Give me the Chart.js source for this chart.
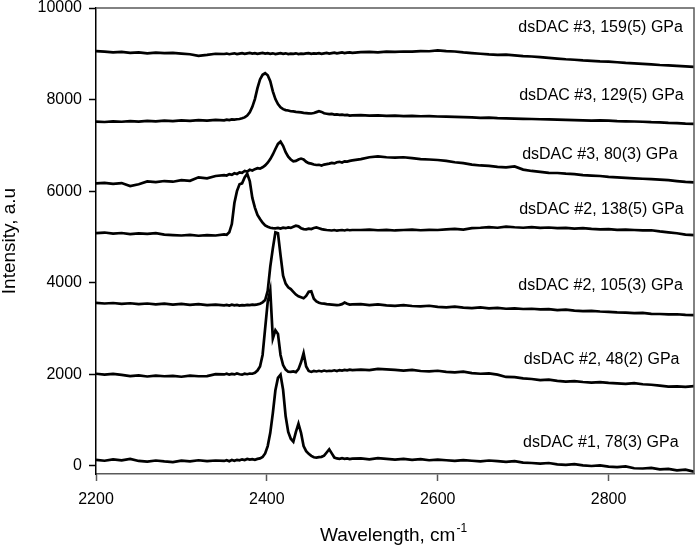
<!DOCTYPE html>
<html>
<head>
<meta charset="utf-8">
<script src="https://cdn.jsdelivr.net/npm/chart.js@4.4.1/dist/chart.umd.min.js"></script>
<style>
  body { margin: 0; background: #fff; }
  canvas { display: block; }
</style>
</head>
<body>
<canvas id="raman-chart" width="697" height="547"></canvas>
<script>
// wavenumber grid (cm-1), finer around the peaks
const wavenumber = [
    2200, 2210, 2220, 2230, 2240, 2250, 2260, 2270, 2280, 2290, 2300, 2310, 2320, 2330, 2340, 2350,
    2353, 2356, 2359, 2362, 2365, 2368, 2371, 2374, 2377, 2380,
    2383, 2386, 2389, 2392, 2395, 2398, 2401, 2404, 2407, 2410,
    2413, 2416, 2419, 2422, 2425, 2428, 2431, 2434, 2437, 2440,
    2443, 2446, 2449, 2452, 2455, 2458, 2461, 2464, 2467, 2470,
    2473, 2476, 2479, 2482, 2485, 2488, 2491, 2494, 2497, 2500,
    2510, 2520, 2530, 2540, 2550, 2560, 2570, 2580, 2590, 2600,
    2610, 2620, 2630, 2640, 2650, 2660, 2670, 2680, 2690, 2700,
    2710, 2720, 2730, 2740, 2750, 2760, 2770, 2780, 2790, 2800,
    2810, 2820, 2830, 2840, 2850, 2860, 2870, 2880, 2890, 2900
];

const dac1_78 = [
    130, 110, 140, 120, 150, 105, 90, 115, 95, 80, 110, 95, 120, 100, 115, 105,
    120, 100, 125, 110, 130, 120, 140, 125, 150, 135,
    145, 130, 150, 160, 190, 270, 430, 720, 1150, 1650,
    1920, 1990, 1660, 1080, 740, 590, 525, 740, 920, 720,
    430, 320, 260, 215, 185, 180, 190, 195, 220, 290,
    360, 270, 180, 160, 150, 165, 150, 160, 145, 155,
    160, 140, 165, 150, 135, 150, 130, 145, 120, 135,
    120, 105, 125, 110, 95, 115, 100, 85, 100, 70,
    60, 45, 60, 30, 20, 35, 10, -5, 10, -20,
    -30, -15, -55, -60, -45, -80, -70, -100, -85, -130
];

const dac2_48 = [
    2010, 1990, 2005, 1985, 1960, 1975, 1950, 1970, 1955, 1965, 1945, 1970, 1955, 1960, 2000, 1995,
    2010, 1990, 2005, 1995, 2015, 2000, 1990, 2010, 2000, 2015,
    2010, 2030, 2080, 2170, 2420, 3000, 3580, 3830, 2780, 2960,
    2880, 2420, 2200, 2100, 2055, 2050, 2060, 2045, 2110, 2260,
    2460, 2170, 2070, 2050, 2070, 2060, 2075, 2060, 2080, 2065,
    2075, 2070, 2085, 2070, 2090, 2080, 2095, 2085, 2100, 2090,
    2100, 2090, 2115, 2105, 2095, 2080, 2095, 2070, 2060, 2075,
    2050, 2040, 2055, 2025, 2010, 2020, 1990, 1940, 1935, 1910,
    1895, 1870, 1880, 1855, 1840, 1850, 1830, 1815, 1825, 1810,
    1800, 1790, 1805, 1780, 1770, 1750, 1730, 1735, 1725, 1740
];

const dac2_105 = [
    3560, 3545, 3555, 3535, 3550, 3530, 3545, 3525, 3540, 3520, 3535, 3515, 3530, 3510, 3520, 3505,
    3515, 3500, 3520, 3505, 3515, 3500, 3510, 3505, 3515, 3510,
    3520, 3515, 3525, 3540, 3570, 3620, 3820, 4350, 4750, 5100,
    5080, 4600, 4150, 3980, 3900, 3860, 3800, 3740, 3700, 3680,
    3660, 3710, 3800, 3810, 3650, 3590, 3560, 3545, 3540, 3530,
    3525, 3520, 3515, 3510, 3515, 3530, 3565, 3540, 3520, 3525,
    3530, 3510, 3525, 3505, 3495, 3510, 3490, 3480, 3495, 3470,
    3460, 3475, 3455, 3445, 3460, 3440, 3450, 3430, 3440, 3425,
    3430, 3415, 3420, 3400, 3410, 3390, 3380, 3385, 3370, 3360,
    3350, 3345, 3335, 3340, 3320, 3315, 3305, 3310, 3295, 3290
];

const dac2_138 = [
    5080, 5095, 5070, 5085, 5060, 5075, 5065, 5080, 5050, 5040, 5030, 5045, 5025, 5040, 5030, 5055,
    5045, 5100, 5280, 5740, 6000, 6150, 6170, 6300, 6380, 6220,
    5850, 5640, 5480, 5390, 5310, 5250, 5220, 5200, 5190, 5185,
    5195, 5180, 5200, 5190, 5205, 5195, 5220, 5245, 5230, 5190,
    5170, 5165, 5180, 5170, 5195, 5205, 5190, 5170, 5160, 5150,
    5145, 5140, 5150, 5135, 5145, 5150, 5140, 5155, 5145, 5150,
    5150, 5160, 5145, 5155, 5140, 5150, 5160, 5145, 5155, 5150,
    5165, 5175, 5160, 5190, 5200, 5215, 5200, 5225, 5210, 5200,
    5215, 5195, 5205, 5190, 5195, 5180, 5190, 5175, 5165, 5170,
    5155, 5160, 5150, 5140, 5145, 5120, 5100, 5080, 5050, 5040
];

const dac3_80 = [
    6170, 6180, 6160, 6175, 6110, 6150, 6210, 6195, 6220, 6205, 6240, 6225, 6300, 6280, 6330, 6350,
    6340, 6370, 6355, 6390, 6375, 6410, 6400, 6440, 6425, 6465,
    6450, 6480, 6500, 6490, 6520, 6560, 6620, 6700, 6800, 6920,
    7030, 7080, 6990, 6850, 6750, 6690, 6650, 6660, 6690, 6710,
    6690, 6640, 6610, 6600, 6580, 6570, 6575, 6560, 6580, 6590,
    6600, 6615, 6605, 6630, 6640, 6625, 6650, 6645, 6660, 6670,
    6700, 6740, 6760, 6740, 6730, 6740, 6720, 6700, 6690, 6680,
    6660, 6630, 6610, 6580, 6560, 6550, 6530, 6520, 6540, 6470,
    6440, 6420, 6400, 6395, 6380, 6370, 6350, 6340, 6330, 6310,
    6300, 6290, 6280, 6270, 6260, 6250, 6240, 6220, 6200, 6190
];

const dac3_129 = [
    7520, 7510, 7525, 7515, 7530, 7520, 7535, 7525, 7540, 7530, 7545, 7535, 7550, 7540, 7555, 7545,
    7560, 7550, 7565, 7560, 7570, 7575, 7590, 7610, 7650, 7720,
    7840, 8010, 8250, 8440, 8540, 8575, 8530, 8400, 8180, 8010,
    7900, 7830, 7790, 7770, 7760, 7745, 7740, 7730, 7725, 7720,
    7710, 7705, 7700, 7695, 7705, 7725, 7745, 7730, 7700, 7690,
    7680, 7685, 7670, 7675, 7665, 7670, 7660, 7665, 7650, 7655,
    7660, 7650, 7655, 7645, 7650, 7640, 7645, 7635, 7640, 7630,
    7625, 7620, 7615, 7610, 7600, 7605, 7595, 7590, 7585, 7580,
    7575, 7570, 7565, 7560, 7555, 7550, 7545, 7540, 7545, 7540,
    7530, 7525, 7520, 7515, 7505, 7500, 7490, 7485, 7475, 7470
];

const dac3_159 = [
    9060, 9045, 9030, 9040, 9020, 9030, 9010, 9025, 9015, 9020, 9005, 8990, 8955, 8975, 9000, 8995,
    9005, 8990, 9000, 9010, 8995, 9005, 9015, 9000, 9010, 9020,
    9005, 9015, 9000, 9010, 9020, 9005, 9015, 9000, 9010, 8995,
    9005, 9015, 9000, 9010, 8995, 9005, 9000, 9010, 8995, 9005,
    9000, 9010, 9015, 9000, 9010, 9005, 9015, 9000, 9010, 9020,
    9005, 9015, 9025, 9010, 9020, 9030, 9015, 9025, 9030, 9020,
    9035, 9040, 9030, 9045, 9040, 9050, 9045, 9060, 9055, 9075,
    9060, 9050, 9030, 9015, 9000, 8985, 8975, 8980, 8965, 8950,
    8940, 8925, 8910, 8895, 8880, 8870, 8855, 8845, 8835, 8830,
    8815, 8800, 8790, 8780, 8770, 8755, 8745, 8735, 8725, 8715
];

const seriesNames = [
    'dsDAC #1, 78(3) GPa', 'dsDAC #2, 48(2) GPa', 'dsDAC #2, 105(3) GPa', 'dsDAC #2, 138(5) GPa',
    'dsDAC #3, 80(3) GPa', 'dsDAC #3, 129(5) GPa', 'dsDAC #3, 159(5) GPa'
];
const seriesValues = [dac1_78, dac2_48, dac2_105, dac2_138, dac3_80, dac3_129, dac3_159];

const yTicks = [0, 2000, 4000, 6000, 8000, 10000];
const xTicks = [2200, 2400, 2600, 2800];

const FONT = '"Liberation Sans", Arial, sans-serif';

// label anchors in data units: right end x, baseline y
const labelAnchors = [
    [2882, 415], [2883, 2230], [2887, 3847], [2888, 5508],
    [2881, 6710], [2888, 8000], [2887, 9486]
];

// frame, curve labels and axis titles
const extrasPlugin = {
    id: 'extras',
    afterDraw(chart) {
        const ctx = chart.ctx;
        const a = chart.chartArea;
        const xs = chart.scales.x, ys = chart.scales.y;
        ctx.save();

        ctx.strokeStyle = '#5a5a5a';
        ctx.lineWidth = 1.5;
        ctx.beginPath();
        ctx.moveTo(a.left, a.top);
        ctx.lineTo(a.right, a.top);
        ctx.lineTo(a.right, a.bottom);
        ctx.stroke();

        ctx.fillStyle = '#000';
        ctx.font = '16px ' + FONT;
        ctx.textAlign = 'right';
        ctx.textBaseline = 'alphabetic';
        seriesNames.forEach((name, i) => {
            const p = labelAnchors[i];
            ctx.fillText(name, xs.getPixelForValue(p[0]), ys.getPixelForValue(p[1]));
        });

        // x title with superscript
        const main = 'Wavelength, cm';
        const sup = '-1';
        ctx.font = '19px ' + FONT;
        const w1 = ctx.measureText(main).width;
        ctx.font = '12px ' + FONT;
        const w2 = ctx.measureText(sup).width;
        const x0 = (a.left + a.right) / 2 - (w1 + w2) / 2 - 2;
        ctx.textAlign = 'left';
        ctx.font = '19px ' + FONT;
        ctx.fillText(main, x0, 541);
        ctx.font = '12px ' + FONT;
        ctx.fillText(sup, x0 + w1 + 1, 532);

        // y title
        ctx.translate(15, (a.top + a.bottom) / 2);
        ctx.rotate(-Math.PI / 2);
        ctx.textAlign = 'center';
        ctx.font = '19px ' + FONT;
        ctx.fillText('Intensity, a.u', 0, 0);
        ctx.restore();
    }
};

const ramanChart = document.getElementById('raman-chart');

new Chart(ramanChart, {
    type: 'line',
    data: {
        datasets: seriesValues.map((vals, i) => ({
            label: seriesNames[i],
            data: vals.map((v, j) => ({ x: wavenumber[j], y: v })),
            borderColor: '#000',
            borderWidth: 2.7,
            pointRadius: 0,
            tension: 0,
            fill: false
        }))
    },
    options: {
        responsive: false,
        animation: false,
        devicePixelRatio: 1,
        layout: { padding: { top: 8, right: 3, left: 0, bottom: 0 } },
        plugins: {
            legend: { display: false },
            tooltip: { enabled: false }
        },
        scales: {
            x: {
                type: 'linear',
                min: 2200,
                max: 2900,
                afterBuildTicks: s => { s.ticks = xTicks.map(v => ({ value: v })); },
                afterFit: s => {
                    s.height = 73;
                    s.paddingLeft = 0;
                    s.paddingRight = 0;
                },
                ticks: {
                    color: '#000',
                    font: { size: 16, family: FONT },
                    padding: 9,
                    maxRotation: 0,
                    callback: v => String(v)
                },
                grid: {
                    drawOnChartArea: false,
                    tickLength: 7,
                    tickWidth: 1.5,
                    color: '#5a5a5a'
                },
                border: { color: '#5a5a5a', width: 1.5 }
            },
            y: {
                min: -180,
                max: 10000,
                afterBuildTicks: s => { s.ticks = yTicks.map(v => ({ value: v })); },
                afterFit: s => {
                    s.width = 96;
                    s.paddingTop = 0;
                    s.paddingBottom = 0;
                },
                ticks: {
                    color: '#000',
                    font: { size: 16, family: FONT },
                    padding: 7,
                    callback: v => String(v)
                },
                grid: {
                    drawOnChartArea: false,
                    tickLength: 7,
                    tickWidth: 1.5,
                    color: '#000'
                },
                border: { color: '#000', width: 1.5 }
            }
        }
    },
    plugins: [extrasPlugin]
});
</script>
</body>
</html>
